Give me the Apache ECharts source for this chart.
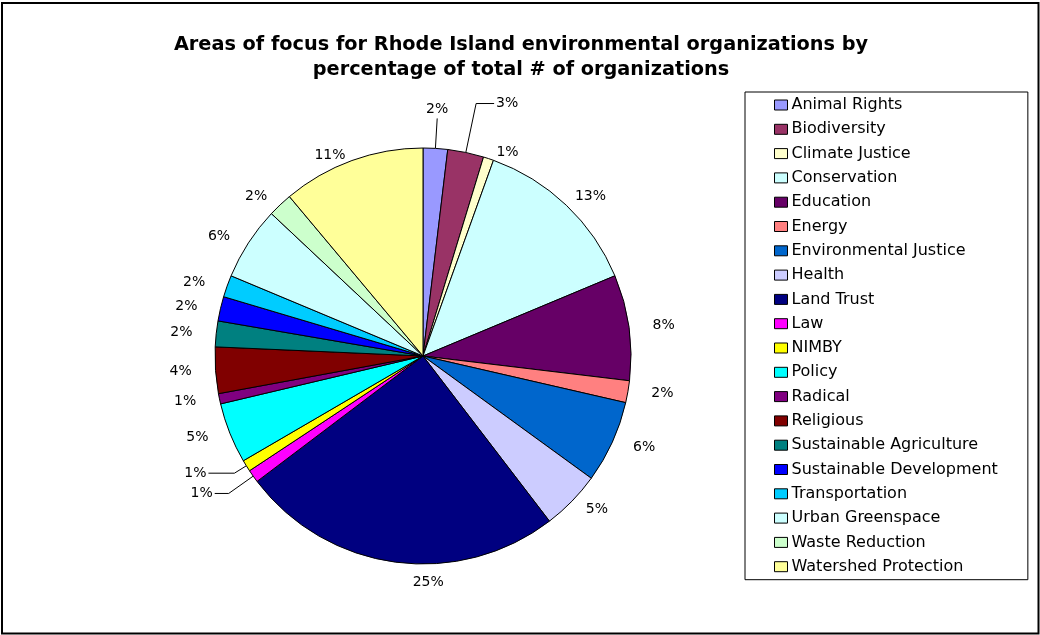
<!DOCTYPE html>
<html>
<head>
<meta charset="utf-8">
<script src="https://cdn.jsdelivr.net/npm/echarts@6/dist/echarts.min.js"></script>
<style>
html,body{margin:0;padding:0;background:#fff;}
#chart{width:1040px;height:635px;}
</style>
</head>
<body>
<div id="chart"></div>
<script>
var categories = ["Animal Rights","Biodiversity","Climate Justice","Conservation","Education","Energy","Environmental Justice","Health","Land Trust","Law","NIMBY","Policy","Radical","Religious","Sustainable Agriculture","Sustainable Development","Transportation","Urban Greenspace","Waste Reduction","Watershed Protection"];
var values = [1.9,2.8,0.8,13.2,8.2,1.7,6.4,4.6,25.1,1.0,0.9,4.7,0.8,3.6,2.0,1.9,1.7,5.7,1.9,11.1];
var colors = ["#9999FF","#993366","#FFFFCC","#CCFFFF","#660066","#FF8080","#0066CC","#CCCCFF","#000080","#FF00FF","#FFFF00","#00FFFF","#800080","#800000","#008080","#0000FF","#00CCFF","#CCFFFF","#CCFFCC","#FFFF99"];
var titleText = "Areas of focus for Rhode Island environmental organizations by\npercentage of total # of organizations";

// --- styling / layout constants (not data) ---
var CX = 423, CY = 356, R = 208;
var LABEL_RX = 243, LABEL_RY = 220;     // Excel-like label ring
// leader-line labels: [radial extension, horizontal run (signed)]
var leader = {
  "Animal Rights": [30, 0],
  "Biodiversity": [50, 18],
  "Law": [30, -14],
  "NIMBY": [14, -26]
};
// small Excel-style label nudges [dx, dy]
var nudge = {
  "Land Trust": [38, 8],
  "Watershed Protection": [-10, 6],
  "Climate Justice": [8, 5]
};

var total = values.reduce(function(a,b){return a+b;},0);
var cum = [];
values.reduce(function(acc,v,i){cum.push(acc); return acc+v;},0);
function midAngle(i){ return (cum[i] + values[i]/2) / total * 2 * Math.PI; } // clockwise from 12 o'clock

var data = categories.map(function(c,i){
  var d = {name:c, value:values[i], itemStyle:{color:colors[i]}};
  if (leader[c]) d.labelLine = {show:true, length:10, length2:5};
  return d;
});

var chart = echarts.init(document.getElementById('chart'), null, {renderer:'canvas'});
chart.setOption({
  animation:false,
  backgroundColor:'#fff',
  color: colors,
  title:{
    text:titleText,
    left:516, top:27, textAlign:'center',
    textStyle:{fontFamily:'DejaVu Sans', fontWeight:'bold', fontSize:19.3, color:'#000', lineHeight:25}
  },
  graphic:[{
    type:'rect', silent:true,
    shape:{x:2, y:3, width:1036.5, height:630.5},
    style:{fill:'none', stroke:'#000', lineWidth:2}
  }],
  legend:{
    orient:'vertical',
    left:745, top:92,
    padding:[5,30,5,29],
    itemWidth:13, itemHeight:10, itemGap:8.3,
    borderColor:'#000', borderWidth:1,
    icon:'rect',
    itemStyle:{borderColor:'#000', borderWidth:1},
    textStyle:{fontFamily:'DejaVu Sans', fontSize:16, color:'#000', lineHeight:16, padding:[0,0,0,-1]},
    data: categories
  },
  series:[{
    type:'pie',
    center:[CX,CY],
    radius:R,
    startAngle:90,
    clockwise:true,
    avoidLabelOverlap:false,
    itemStyle:{borderColor:'#000', borderWidth:1},
    label:{
      show:true, position:'outside',
      formatter:function(p){return Math.round(p.percent)+'%';},
      fontFamily:'DejaVu Sans', fontSize:14, color:'#000'
    },
    labelLine:{show:false, lineStyle:{color:'#000', width:1}},
    labelLayout:function(p){
      var i = p.dataIndex, a = midAngle(i);
      var s = Math.sin(a), c = -Math.cos(a);
      var name = categories[i];
      if (leader[name]) {
        var ext = leader[name][0], run = leader[name][1];
        var p0 = [CX + R*s, CY + R*c];
        var p1 = [CX + (R+ext)*s, CY + (R+ext)*c];
        var p2 = [p1[0] + run, p1[1]];
        if (run === 0) {
          return {x:p2[0], y:p2[1]-2, align:'center', verticalAlign:'bottom', labelLinePoints:[p0,p1,p2]};
        }
        return {x:p2[0] + (run>0?2:-2), y:p2[1], align: run>0?'left':'right', verticalAlign:'middle', labelLinePoints:[p0,p1,p2]};
      }
      var n = nudge[name] || [0,0];
      return {x: CX + LABEL_RX*s + n[0], y: CY + LABEL_RY*c + n[1], align:'center', verticalAlign:'middle'};
    },
    emphasis:{disabled:true},
    data:data
  }]
});
</script>
</body>
</html>
